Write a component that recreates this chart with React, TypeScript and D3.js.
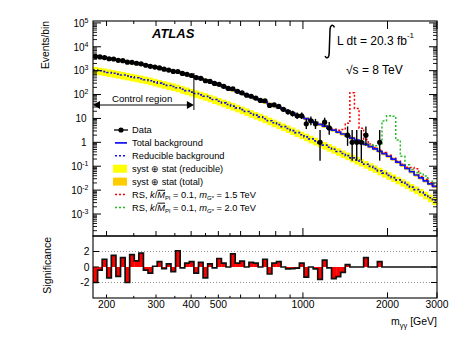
import React from "react";
import * as d3 from "d3";

// bin edges of the m_gg histogram [GeV]
const massEdges = [
  179, 185.9, 193.0, 200.4, 208.0, 216.0, 224.3, 232.9, 241.8, 251.0,
  260.6, 270.6, 281.0, 291.8, 302.9, 314.5, 326.6, 339.1, 352.1, 365.6,
  379.6, 394.1, 409.2, 424.9, 441.2, 458.1, 475.6, 493.8, 512.8, 532.4,
  552.8, 574.0, 596.0, 618.8, 642.5, 667.1, 692.7, 719.2, 746.8, 775.4,
  805.1, 835.9, 867.9, 901.2, 935.7, 971.5, 1008.7, 1047.4, 1087.5, 1129.1,
  1172.4, 1217.3, 1263.9, 1312.3, 1362.6, 1414.8, 1469.0, 1525.2, 1583.6, 1644.3,
  1707.3, 1772.7, 1840.6, 1911.1, 1984.3, 2060.3, 2139.2, 2221.1, 2306.2, 2394.5,
  2486.2, 2581.4, 2680.3, 2783.0, 2889.6, 3000,
];

const totalBkg = [
  4070, 3770, 3490, 3240, 3000, 2780, 2570, 2360, 2170, 2010,
  1850, 1700, 1550, 1410, 1280, 1160, 1050, 953, 862, 769,
  688, 610, 534, 466, 406, 346, 295, 252, 214, 181,
  154, 130, 110, 93.6, 79.3, 67.2, 56.9, 47.9, 40.3, 34.0,
  28.6, 24.0, 20.2, 16.9, 14.0, 11.8, 9.82, 8.21, 6.85, 5.70,
  4.73, 3.91, 3.24, 2.69, 2.23, 1.84, 1.51, 1.24, 1.01, 0.822,
  0.667, 0.535, 0.424, 0.336, 0.262, 0.197, 0.148, 0.110, 0.0802, 0.0586,
  0.0430, 0.0323, 0.0242, 0.0184, 0.0143,
];

const reducibleBkg = [
  1070, 986, 911, 840, 776, 716, 656, 600, 548, 502,
  458, 419, 379, 338, 302, 270, 241, 216, 192, 167,
  146, 127, 111, 97.3, 84.7, 72.4, 61.7, 52.8, 45.0, 38.5,
  32.9, 27.6, 23.3, 19.6, 16.4, 13.8, 11.6, 9.66, 8.00, 6.64,
  5.50, 4.55, 3.78, 3.10, 2.54, 2.08, 1.70, 1.39, 1.15, 0.936,
  0.764, 0.624, 0.510, 0.416, 0.340, 0.277, 0.224, 0.182, 0.149, 0.121,
  0.0984, 0.0797, 0.0640, 0.0516, 0.0414, 0.0334, 0.0268, 0.0215, 0.0169, 0.0133,
  0.0105, 0.00832, 0.00631, 0.00479, 0.00364,
];

const dataCounts = [
  3942, 3745, 3549, 3160, 3082, 2717, 2631, 2263, 2245, 2046,
  1927, 1684, 1518, 1414, 1305, 1153, 1063, 934, 924, 766,
  701, 627, 516, 479, 378, 353, 293, 269, 221, 181,
  175, 136, 118, 94, 85, 71, 57, 55, 35, 37,
  32, 24, 19, 16, 13, 13, 6, 8, 6, 1,
  7, 4, 0, 0, 0, 2, 1, 1, 1, 2,
  0, 0, 1, 0, 0, 0, 0, 0, 0, 0,
  0, 0, 0, 0, 0,
];

const significance = [
  -2.0, -0.4, 1.0, -1.4, 1.5, -1.2, 1.2, -2.0, 1.6, 0.8,
  1.8, -0.4, -0.8, 0.1, 0.7, -0.2, 0.4, -0.6, 2.1, -0.1,
  0.5, 0.7, -0.8, 0.6, -1.4, 0.4, -0.1, 1.1, 0.5, 0.0,
  1.7, 0.5, 0.75, 0.0, 0.6, 0.5, 0.0, 1.0, -0.9, 0.5,
  0.7, 0.0, -0.25, -0.2, -0.15, 0.5, -1.3, 0.0, -0.25, -1.6,
  0.9, -0.1, -1.5, -1.25, -0.7, 0.3, 0, 0, 0, 1.2,
  0, 0, 0.7, 0, 0, 0, 0, 0, 0, 0,
  0, 0, 0, 0, 0,
];

// RS graviton signal on top of the background, starting at a given bin
const rs15Start = 50;
const rs15Signal = [
  0.06, 0.12, 0.25, 0.5, 1.2, 4.5, 118, 25, 2.9, 0.48,
  0.18, 0.07, 0.05, 0.035, 0.025, 0.018, 0.012, 0.012, 0.01, 0.03,
  0.035, 0.005, 0.004, 0.002, 0.002,
];
const rs20Start = 58;
const rs20Signal = [
  0.024, 0.05, 0.1, 0.18, 0.36, 7.4, 12.8, 12.2, 1.1, 0.15,
  0.035, 0.015, 0.012, 0.018, 0.015, 0.005, 0.004,
];

const reducibleUnc = 0.35;
const totalUnc = 0.15;

const xLabels = [200, 300, 400, 500, 1000, 2000, 3000];
const xTicksMid = [200, 300, 400, 500, 600, 700, 800, 900];
const xTicksSmall = [250, 350, 450, 550];
const xTicksBig = [1000, 2000, 3000];
const yDecades = [-3, -2, -1, 0, 1, 2, 3, 4, 5];
const sigLabels = [-2, 0, 2];

const FONT = "'Liberation Sans', Arial, Helvetica, sans-serif";
const X0 = 93, X1 = 437;
const TY0 = 21, TY1 = 236, BY1 = 298;
const BLUE = "#1010f0";
const YELLOW = "#ffff00";
const ORANGE = "#ffcc00";
const RED = "#ff0000";
const GREEN = "#22bb22";

// asymmetric poisson error bars (Wilson-Hilferty approx.)
function poisLo(n: number) {
  return n * Math.pow(1 - 1 / (9 * n) - 1 / (3 * Math.sqrt(n)), 3);
}
function poisHi(n: number) {
  const m = n + 1;
  return m * Math.pow(1 - 1 / (9 * m) + 1 / (3 * Math.sqrt(m)), 3);
}

export default function App() {
  const x = d3.scaleLog().domain([179, 3000]).range([X0, X1]);
  const y = d3.scaleLog().domain([1.2e-4, 1.2e5]).range([TY1, TY0]).clamp(true);
  const ys = d3.scaleLinear().domain([-4, 4]).range([BY1, TY1]);
  const line = d3.line();

  const step = (vals: number[], start: number, sc: (v: number) => number) => {
    const pts: [number, number][] = [];
    vals.forEach((v, j) => {
      pts.push([x(massEdges[start + j]), sc(v)]);
      pts.push([x(massEdges[start + j + 1]), sc(v)]);
    });
    return line(pts) || "";
  };

  const rs15Total = rs15Signal.map((s, j) => s + totalBkg[rs15Start + j]);
  const rs20Total = rs20Signal.map((s, j) => s + totalBkg[rs20Start + j]);

  // y ticks
  const yMinor: number[] = [];
  yDecades.concat([-4]).forEach((d) => {
    for (let k = 2; k <= 9; k++) {
      const v = k * Math.pow(10, d);
      if (v > 1.2e-4 && v < 1.2e5) yMinor.push(v);
    }
  });

  const legendY = [130, 142.9, 155.8, 168.7, 181.6, 194.5, 207.4];
  const crX = x(409.2);

  return (
    <svg
      width={473}
      height={339}
      style={{ position: "absolute", left: 0, top: 0, background: "#fff" }}
      fontFamily={FONT}
    >
      <defs>
        <clipPath id="topclip">
          <rect x={X0} y={TY0} width={X1 - X0} height={TY1 - TY0} />
        </clipPath>
        <clipPath id="botclip">
          <rect x={X0} y={TY1} width={X1 - X0} height={BY1 - TY1} />
        </clipPath>
      </defs>

      <g clipPath="url(#topclip)">
        {/* uncertainty bands */}
        {reducibleBkg.map((v, i) => (
          <rect key={"yb" + i} x={x(massEdges[i])} width={x(massEdges[i + 1]) - x(massEdges[i]) + 0.3}
            y={y(v * (1 + reducibleUnc))} height={y(v * (1 - reducibleUnc)) - y(v * (1 + reducibleUnc))}
            fill={YELLOW} />
        ))}
        {totalBkg.map((v, i) => (
          <rect key={"ob" + i} x={x(massEdges[i])} width={x(massEdges[i + 1]) - x(massEdges[i]) + 0.3}
            y={y(v * (1 + totalUnc))} height={y(v * (1 - totalUnc)) - y(v * (1 + totalUnc))}
            fill={ORANGE} />
        ))}
        <path d={step(reducibleBkg, 0, y)} fill="none" stroke={BLUE} strokeWidth={1.6} strokeDasharray="2,2" />
        <path d={step(rs15Total, rs15Start, y)} fill="none" stroke={RED} strokeWidth={1.5} strokeDasharray="2,2" />
        <path d={step(rs20Total, rs20Start, y)} fill="none" stroke={GREEN} strokeWidth={1.5} strokeDasharray="2,2" />
        <path d={step(totalBkg, 0, y)} fill="none" stroke={BLUE} strokeWidth={1.7} />

        {/* data */}
        {dataCounts.map((n, i) => {
          if (n <= 0) return null;
          const cx = x(Math.sqrt(massEdges[i] * massEdges[i + 1]));
          return (
            <g key={"d" + i}>
              <line x1={cx} x2={cx} y1={y(poisLo(n))} y2={y(poisHi(n))} stroke="#000" strokeWidth={1.4} />
              <circle cx={cx} cy={y(n)} r={2.6} fill="#000" />
            </g>
          );
        })}
      </g>

      {/* control region */}
      <line x1={crX} x2={crX} y1={73} y2={110} stroke="#000" strokeWidth={1} />
      <line x1={X0 + 5} x2={crX - 5} y1={105} y2={105} stroke="#000" strokeWidth={1} />
      <path d={`M${X0},105 L${X0 + 7},101 L${X0 + 7},109 Z`} fill="#000" />
      <path d={`M${crX},105 L${crX - 7},101 L${crX - 7},109 Z`} fill="#000" />
      <text x={112} y={101.5} fontSize={9.6}>Control region</text>

      {/* significance panel */}
      <g clipPath="url(#botclip)">
        {significance.map((s, i) => (
          <rect key={"s" + i} x={x(massEdges[i])} width={x(massEdges[i + 1]) - x(massEdges[i]) + 0.2}
            y={Math.min(ys(s), ys(0))} height={Math.abs(ys(s) - ys(0))} fill={RED} />
        ))}
        {[-2, 2].map((v) => (
          <line key={"dl" + v} x1={X0} x2={X1} y1={ys(v)} y2={ys(v)} stroke="#777" strokeWidth={0.8} strokeDasharray="1,2" />
        ))}
        <path d={`M${X0},${ys(significance[0])} ` + step(significance, 0, ys).slice(1)} fill="none" stroke="#111" strokeWidth={1.7} />
      </g>

      {/* frames */}
      <rect x={X0} y={TY0} width={X1 - X0} height={TY1 - TY0} fill="none" stroke="#000" strokeWidth={1.1} />
      <rect x={X0} y={TY1} width={X1 - X0} height={BY1 - TY1} fill="none" stroke="#000" strokeWidth={1.1} />

      {/* y ticks top panel */}
      {yDecades.map((d) => {
        const yy = y(Math.pow(10, d));
        return (
          <g key={"yt" + d}>
            <line x1={X0} x2={X0 + 8} y1={yy} y2={yy} stroke="#000" />
            <line x1={X1} x2={X1 - 8} y1={yy} y2={yy} stroke="#000" />
          </g>
        );
      })}
      {yMinor.map((v, i) => (
        <g key={"ym" + i}>
          <line x1={X0} x2={X0 + 4} y1={y(v)} y2={y(v)} stroke="#000" strokeWidth={0.9} />
          <line x1={X1} x2={X1 - 4} y1={y(v)} y2={y(v)} stroke="#000" strokeWidth={0.9} />
        </g>
      ))}
      {yDecades.map((d) => {
        const yy = y(Math.pow(10, d));
        if (d === 0 || d === 1)
          return (
            <text key={"yl" + d} x={86.5} y={yy + 3.8} fontSize={10} textAnchor="end">
              {d === 0 ? "1" : "10"}
            </text>
          );
        return (
          <text key={"yl" + d} x={88.5} y={yy + 3.8} fontSize={10} textAnchor="end">
            10<tspan fontSize={7} dy={-4}>{String(d)}</tspan>
          </text>
        );
      })}

      {/* x ticks */}
      {[
        ...xTicksBig.map((v) => [v, 8]),
        ...xTicksMid.map((v) => [v, 5]),
        ...xTicksSmall.map((v) => [v, 3]),
      ].map(([v, len], i) => {
        const xx = x(v);
        return (
          <g key={"xt" + i}>
            <line x1={xx} x2={xx} y1={TY0} y2={TY0 + len} stroke="#000" />
            <line x1={xx} x2={xx} y1={TY1} y2={TY1 - len} stroke="#000" />
            <line x1={xx} x2={xx} y1={BY1} y2={BY1 - len * 0.7} stroke="#000" />
          </g>
        );
      })}
      {xLabels.map((v) => (
        <text key={"xl" + v} x={x(v)} y={308} fontSize={10.3} textAnchor="middle">{v}</text>
      ))}

      {/* significance ticks + labels */}
      {sigLabels.map((v) => (
        <g key={"st" + v}>
          <line x1={X0} x2={X0 + 6} y1={ys(v)} y2={ys(v)} stroke="#000" />
          <line x1={X1} x2={X1 - 6} y1={ys(v)} y2={ys(v)} stroke="#000" />
          <text x={89.5} y={ys(v) + 3.6} fontSize={10.3} textAnchor="end">{v}</text>
        </g>
      ))}

      {/* axis titles */}
      <text transform="translate(49,21) rotate(-90)" fontSize={10.3} textAnchor="end">Events/bin</text>
      <text transform="translate(51,237) rotate(-90)" fontSize={10.5} textAnchor="end">Significance</text>
      <text x={437} y={325} fontSize={10.5} textAnchor="end">
        m<tspan fontSize={7.5} dy={2.5}>γγ</tspan><tspan dy={-2.5}> [GeV]</tspan>
      </text>

      {/* labels */}
      <text x={152} y={37.7} fontSize={13} fontWeight="bold" fontStyle="italic">ATLAS</text>
      <path d="M334.5,27.5 C333,24 330.2,24.5 330,30 L329.2,53 C329,58.5 326.5,59 325,56" fill="none" stroke="#000" strokeWidth={1.5} />
      <text x={337} y={45} fontSize={12}>
        L dt = 20.3 fb<tspan fontSize={8} dy={-7.5}>-1</tspan>
      </text>
      <text x={346} y={74} fontSize={12}>√s = 8 TeV</text>

      {/* legend */}
      <g fontSize={9.3}>
        <line x1={114} x2={128} y1={legendY[0]} y2={legendY[0]} stroke="#000" strokeWidth={1.3} />
        <circle cx={121} cy={legendY[0]} r={2.6} fill="#000" />
        <text x={132} y={legendY[0] + 3.3}>Data</text>

        <line x1={115} x2={127} y1={legendY[1]} y2={legendY[1]} stroke={BLUE} strokeWidth={1.7} />
        <text x={132} y={legendY[1] + 3.3}>Total background</text>

        <line x1={115} x2={127} y1={legendY[2]} y2={legendY[2]} stroke={BLUE} strokeWidth={1.6} strokeDasharray="2,2" />
        <text x={132} y={legendY[2] + 3.3}>Reducible background</text>

        <rect x={113} y={legendY[3] - 4} width={14} height={8} fill={YELLOW} />
        <text x={132} y={legendY[3] + 3.3}>syst ⊕ stat (reducible)</text>

        <rect x={113} y={legendY[4] - 4} width={14} height={8} fill={ORANGE} />
        <text x={132} y={legendY[4] + 3.3}>syst ⊕ stat (total)</text>

        {[
          { c: RED, m: "1.5" },
          { c: GREEN, m: "2.0" },
        ].map((e, j) => {
          const yy = legendY[5 + j];
          return (
            <g key={"rs" + j}>
              <line x1={115} x2={127} y1={yy} y2={yy} stroke={e.c} strokeWidth={1.5} strokeDasharray="2,2" />
              <text x={132} y={yy + 3.3}>
                RS, <tspan fontStyle="italic">k</tspan>/<tspan fontStyle="italic" textDecoration="overline">M</tspan>
                <tspan fontSize={6} dy={2}>Pl</tspan>
                <tspan dy={-2}> = 0.1, </tspan>
                <tspan fontStyle="italic">m</tspan>
                <tspan fontSize={6} dy={2} fontStyle="italic">G*</tspan>
                <tspan dy={-2}>{` = ${e.m} TeV`}</tspan>
              </text>
            </g>
          );
        })}
      </g>
    </svg>
  );
}
